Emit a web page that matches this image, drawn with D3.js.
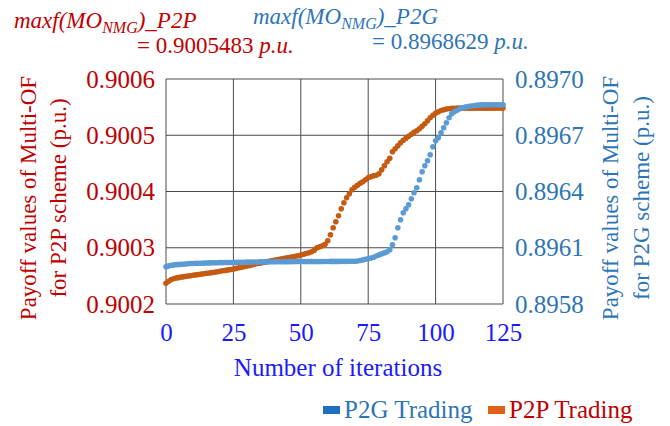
<!DOCTYPE html>
<html>
<head>
<meta charset="utf-8">
<script src="https://cdn.jsdelivr.net/npm/d3@7"></script>
<style>
  body { margin: 0; }
  #chart text { font-family: 'Liberation Serif', serif !important; }
</style>
</head>
<body>
<svg id="chart" width="670" height="426"></svg>
<script>
// payoff values, one per iteration (0..125)
const p2pValues = [
  0.9002370, 0.9002405, 0.9002436, 0.9002453, 0.9002464, 0.9002473, 0.9002482, 0.9002489, 0.9002496, 0.9002503,
  0.9002510, 0.9002517, 0.9002524, 0.9002532, 0.9002539, 0.9002546, 0.9002551, 0.9002558, 0.9002565, 0.9002574,
  0.9002581, 0.9002590, 0.9002597, 0.9002606, 0.9002613, 0.9002622, 0.9002633, 0.9002644, 0.9002654, 0.9002665,
  0.9002676, 0.9002686, 0.9002699, 0.9002709, 0.9002720, 0.9002727, 0.9002738, 0.9002748, 0.9002757, 0.9002768,
  0.9002779, 0.9002788, 0.9002796, 0.9002805, 0.9002814, 0.9002823, 0.9002832, 0.9002841, 0.9002850, 0.9002859,
  0.9002871, 0.9002884, 0.9002898, 0.9002912, 0.9002930, 0.9002956, 0.9003001, 0.9003019, 0.9003036, 0.9003063,
  0.9003125, 0.9003232, 0.9003356, 0.9003463, 0.9003570, 0.9003694, 0.9003801, 0.9003890, 0.9003961, 0.9004032,
  0.9004076, 0.9004112, 0.9004148, 0.9004174, 0.9004210, 0.9004245, 0.9004263, 0.9004281, 0.9004290, 0.9004316,
  0.9004388, 0.9004459, 0.9004530, 0.9004592, 0.9004708, 0.9004761, 0.9004814, 0.9004868, 0.9004912, 0.9004948,
  0.9004983, 0.9005019, 0.9005054, 0.9005081, 0.9005116, 0.9005161, 0.9005205, 0.9005259, 0.9005312, 0.9005356,
  0.9005392, 0.9005419, 0.9005440, 0.9005454, 0.9005465, 0.9005472, 0.9005477, 0.9005481, 0.9005482, 0.9005483,
  0.9005483, 0.9005483, 0.9005483, 0.9005483, 0.9005483, 0.9005483, 0.9005483, 0.9005483,
  0.9005483, 0.9005483, 0.9005483, 0.9005483, 0.9005483, 0.9005483, 0.9005483, 0.9005483
];

const p2gValues = [
  0.8959989, 0.8960032, 0.8960064, 0.8960085, 0.8960101, 0.8960112, 0.8960123, 0.8960133, 0.8960144, 0.8960155,
  0.8960160, 0.8960165, 0.8960171, 0.8960176, 0.8960181, 0.8960187, 0.8960192, 0.8960195, 0.8960197, 0.8960203,
  0.8960205, 0.8960208, 0.8960210, 0.8960213, 0.8960215, 0.8960219, 0.8960221, 0.8960224, 0.8960227, 0.8960229,
  0.8960232, 0.8960235, 0.8960237, 0.8960240, 0.8960243, 0.8960245, 0.8960247, 0.8960248, 0.8960249, 0.8960251,
  0.8960252, 0.8960253, 0.8960255, 0.8960256, 0.8960257, 0.8960259, 0.8960260, 0.8960261, 0.8960263, 0.8960264,
  0.8960265, 0.8960266, 0.8960266, 0.8960267, 0.8960267, 0.8960268, 0.8960268, 0.8960269, 0.8960269, 0.8960270,
  0.8960270, 0.8960271, 0.8960271, 0.8960272, 0.8960273, 0.8960274, 0.8960275, 0.8960276, 0.8960278, 0.8960280,
  0.8960282, 0.8960293, 0.8960320, 0.8960352, 0.8960384, 0.8960416, 0.8960453, 0.8960496, 0.8960560, 0.8960619,
  0.8960672, 0.8960725, 0.8960789, 0.8960896, 0.8961163, 0.8961536, 0.8962069, 0.8962496, 0.8962869, 0.8963083,
  0.8963296, 0.8963616, 0.8963936, 0.8964203, 0.8964629, 0.8965056, 0.8965376, 0.8965643, 0.8965963, 0.8966389,
  0.8966709, 0.8966869, 0.8967136, 0.8967403, 0.8967669, 0.8967936, 0.8968149, 0.8968256, 0.8968336, 0.8968416,
  0.8968469, 0.8968507, 0.8968533, 0.8968555, 0.8968576, 0.8968592, 0.8968608, 0.8968619,
  0.8968629, 0.8968629, 0.8968629, 0.8968629, 0.8968629, 0.8968629, 0.8968629, 0.8968629
];

const xTicks = [0, 25, 50, 75, 100, 125];
const leftTicks = [0.9002, 0.9003, 0.9004, 0.9005, 0.9006];
const rightTicks = [0.8958, 0.8961, 0.8964, 0.8967, 0.8970];

const plot = { left: 166, right: 503, top: 79, bottom: 304 };
const serif = 'Liberation Serif';

const red = '#c00000';
const blueText = '#2e75b6';
const tickBlue = '#1a1aff';

const svg = d3.select('#chart');

// scales
const x = d3.scaleLinear().domain([0, 125]).range([plot.left, plot.right]);
const yLeft = d3.scaleLinear().domain([0.9002, 0.9006]).range([plot.bottom, plot.top]);
const yRight = d3.scaleLinear().domain([0.8958, 0.8970]).range([plot.bottom, plot.top]);

// gridlines
const grid = svg.append('g');
grid.selectAll('line.v')
  .data(xTicks)
  .enter().append('line')
  .attr('x1', d => x(d)).attr('x2', d => x(d))
  .attr('y1', plot.top).attr('y2', plot.bottom)
  .attr('stroke', '#4a4a4a').attr('stroke-width', 1);
grid.selectAll('line.h')
  .data(leftTicks)
  .enter().append('line')
  .attr('x1', plot.left).attr('x2', plot.right)
  .attr('y1', d => yLeft(d)).attr('y2', d => yLeft(d))
  .attr('stroke', '#4a4a4a').attr('stroke-width', 1);

// axes (labels only)
const xAxis = d3.axisBottom(x).tickValues(xTicks).tickSize(0).tickPadding(19);
const leftAxis = d3.axisLeft(yLeft).tickValues(leftTicks).tickSize(0).tickPadding(11).tickFormat(d3.format('.4f'));
const rightAxis = d3.axisRight(yRight).tickValues(rightTicks).tickSize(0).tickPadding(12).tickFormat(d3.format('.4f'));

const gx = svg.append('g')
  .attr('transform', `translate(0,${plot.bottom})`)
  .call(xAxis);
gx.selectAll('text').attr('fill', tickBlue);

const gl = svg.append('g')
  .attr('transform', `translate(${plot.left},0)`)
  .call(leftAxis);
gl.selectAll('text').attr('fill', red);

const gr = svg.append('g')
  .attr('transform', `translate(${plot.right},0)`)
  .call(rightAxis);
gr.selectAll('text').attr('fill', blueText);

svg.selectAll('.domain').remove();

// dots: P2P first, P2G on top
svg.append('g').selectAll('circle')
  .data(p2pValues)
  .enter().append('circle')
  .attr('cx', (d, i) => x(i))
  .attr('cy', d => yLeft(d))
  .attr('r', 2.8)
  .attr('fill', '#c55a11');

svg.append('g').selectAll('circle')
  .data(p2gValues)
  .enter().append('circle')
  .attr('cx', (d, i) => x(i))
  .attr('cy', d => yRight(d))
  .attr('r', 2.8)
  .attr('fill', '#5b9bd5');

// x axis title
svg.append('text')
  .attr('x', 338).attr('y', 376)
  .attr('text-anchor', 'middle')
  .attr('fill', tickBlue)
  .attr('font-size', 25)
  .text('Number of iterations');

// left axis title (two lines)
const lt = svg.append('text')
  .attr('transform', 'translate(36,198) rotate(-90)')
  .attr('text-anchor', 'middle')
  .attr('fill', red)
  .attr('font-size', 23);
lt.append('tspan').attr('x', 0).attr('y', 0).text('Payoff values of Multi-OF');
lt.append('tspan').attr('x', 0).attr('y', 30).text('for P2P scheme (p.u.)');

// right axis title
const rt = svg.append('text')
  .attr('transform', 'translate(618,198) rotate(-90)')
  .attr('text-anchor', 'middle')
  .attr('fill', blueText)
  .attr('font-size', 23);
rt.append('tspan').attr('x', 0).attr('y', 0).text('Payoff values of Multi-OF');
rt.append('tspan').attr('x', 0).attr('y', 31).text('for P2G scheme (p.u.)');

// annotations with max values
function maxLabel(x0, y0, x1, y1, suffix, value, color) {
  const t = svg.append('text')
    .attr('x', x0).attr('y', y0)
    .attr('fill', color)
    .attr('font-size', 23)
    .attr('font-style', 'italic');
  t.append('tspan').text('maxf(MO');
  t.append('tspan').attr('dy', 5).attr('font-size', 16).text('NMG');
  t.append('tspan').attr('dy', -5).text(')_' + suffix);

  const v = svg.append('text')
    .attr('x', x1).attr('y', y1)
    .attr('fill', color)
    .attr('font-size', 23);
  v.append('tspan').text('= ' + value + ' ');
  v.append('tspan').attr('font-style', 'italic').text('p.u.');
}
maxLabel(14, 28, 137, 53, 'P2P', d3.max(p2pValues).toFixed(7), red);
maxLabel(253, 24, 372, 49, 'P2G', d3.max(p2gValues).toFixed(7), blueText);

// legend
const legend = [
  { name: 'P2G Trading', color: '#1f6fc0', text: blueText, x: 323 },
  { name: 'P2P Trading', color: '#e0601a', text: red, x: 488 }
];
const lg = svg.append('g').selectAll('g')
  .data(legend)
  .enter().append('g')
  .attr('transform', d => `translate(${d.x},410)`);
lg.append('rect')
  .attr('x', 0).attr('y', -4)
  .attr('width', 17).attr('height', 8)
  .attr('fill', d => d.color);
lg.append('text')
  .attr('x', 21).attr('y', 8)
  .attr('fill', d => d.text)
  .attr('font-size', 25)
  .text(d => d.name);

// every text element gets the serif face explicitly
svg.selectAll('g').attr('font-family', null);
svg.selectAll('text').attr('font-family', serif);
svg.selectAll('.tick text').attr('font-size', 25);
</script>
</body>
</html>
